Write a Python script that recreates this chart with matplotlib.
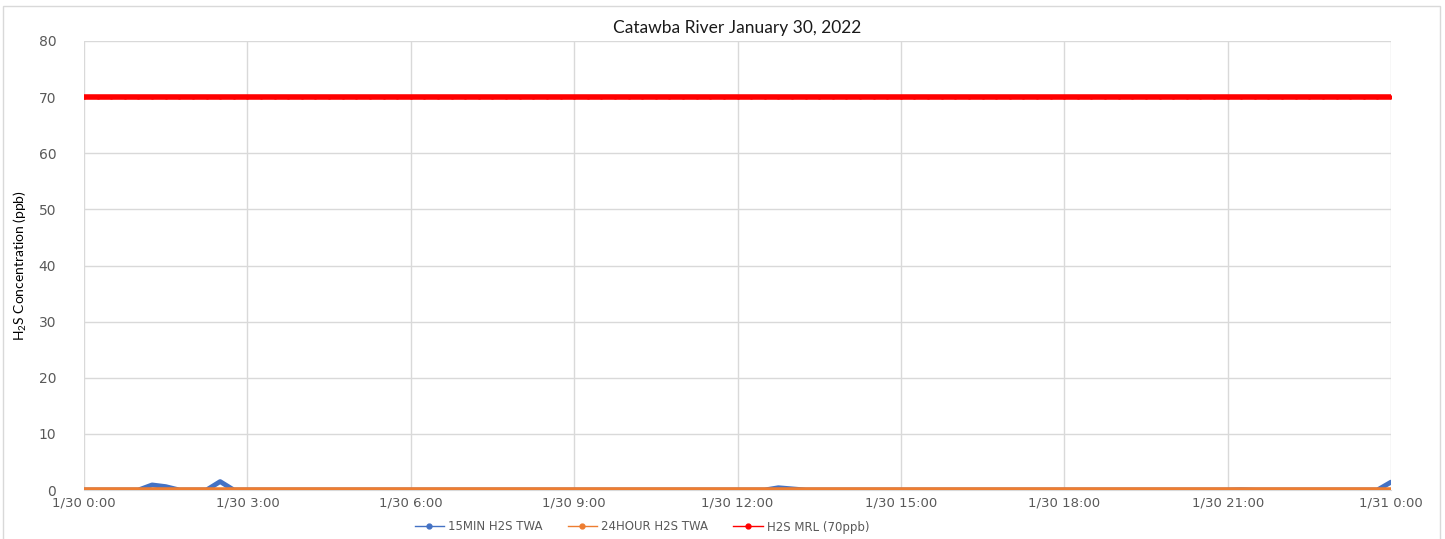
import matplotlib

matplotlib.use("Agg")

import matplotlib.pyplot as plt
import matplotlib.dates as mdates
import pandas as pd
from matplotlib.lines import Line2D
from matplotlib.patches import Rectangle

plt.rcParams["mathtext.default"] = "regular"
plt.rcParams["font.family"] = ["DejaVu Sans"]

TITLE = "Catawba River January 30, 2022"
YLABEL = "H$_2$S Concentration (ppb)"

# 15-minute readings, 1/30 0:00 through 1/31 0:00
times = pd.date_range("2022-01-30 00:00", "2022-01-31 00:00", freq="15min")

min15_twa = [
    0.0, 0.0, 0.0, 0.0, 0.0, 0.9, 0.6, 0.0, 0.0, 0.0, 1.5, 0.0,
    0.0, 0.0, 0.0, 0.0, 0.0, 0.0, 0.0, 0.0, 0.0, 0.0, 0.0, 0.0,
    0.0, 0.0, 0.0, 0.0, 0.0, 0.0, 0.0, 0.0, 0.0, 0.0, 0.0, 0.0,
    0.0, 0.0, 0.0, 0.0, 0.0, 0.0, 0.0, 0.0, 0.0, 0.0, 0.0, 0.0,
    0.0, 0.0, 0.0, 0.4, 0.2, 0.0, 0.0, 0.0, 0.0, 0.0, 0.0, 0.0,
    0.0, 0.0, 0.0, 0.0, 0.0, 0.0, 0.0, 0.0, 0.0, 0.0, 0.0, 0.0,
    0.0, 0.0, 0.0, 0.0, 0.0, 0.0, 0.0, 0.0, 0.0, 0.0, 0.0, 0.0,
    0.0, 0.05, 0.0, 0.0, 0.0, 0.0, 0.0, 0.0, 0.0, 0.0, 0.0, 0.0,
    1.4,
]
hour24_twa = [0.0] * len(times)
mrl_ppb = [70.0] * len(times)

BLUE = "#4472c4"
ORANGE = "#ed7d31"
RED = "#ff0000"
GRID = "#d9d9d9"

fig = plt.figure(figsize=(14.45, 5.39), dpi=100)
ax = fig.add_axes([84 / 1445, 1 - 490 / 539, (1391 - 84) / 1445, (490 - 41) / 539])

ax.plot(times, mrl_ppb, color=RED, lw=4, marker="o", ms=3, mew=0,
        solid_capstyle="round", zorder=3)
ax.plot(times, min15_twa, color=BLUE, lw=3.5, solid_joinstyle="round",
        solid_capstyle="round", zorder=4)
ax.plot(times, hour24_twa, color=ORANGE, lw=4, solid_capstyle="round", zorder=5)

ax.set_xlim(times[0], times[-1])
ax.set_ylim(0, 80)
ax.set_yticks(range(0, 81, 10))
ax.xaxis.set_major_locator(mdates.HourLocator(byhour=range(0, 24, 3)))
ax.xaxis.set_minor_locator(mdates.HourLocator())
ax.xaxis.set_major_formatter(
    matplotlib.ticker.FuncFormatter(
        lambda v, pos: (lambda d: f"{d.month}/{d.day} {d.hour}:{d.minute:02d}")(
            mdates.num2date(v)
        )
    )
)

ax.grid(True, which="major", color=GRID, lw=1)
ax.set_axisbelow(True)
for side in ("top", "right", "left"):
    ax.spines[side].set_visible(False)
ax.spines["bottom"].set_color(GRID)
ax.tick_params(axis="both", which="both", length=0, labelsize=10,
               labelcolor="#595959")
ax.tick_params(axis="x", which="major", pad=5, labelsize=9.5)
ax.tick_params(axis="y", pad=20)

ax.set_title(TITLE, fontsize=12.5, family=["Lato", "DejaVu Sans"], pad=6,
             color="#1a1a1a")
ax.set_ylabel(YLABEL, fontsize=10, family=["Liberation Sans Narrow", "Lato"],
              labelpad=7)

handles = [
    Line2D([], [], color=BLUE, lw=1, marker="o", ms=3.5),
    Line2D([], [], color=ORANGE, lw=1, marker="o", ms=3.5),
    Line2D([], [], color=RED, lw=1, marker="o", ms=3.5),
]
fig.legend(handles, ["15MIN H2S TWA", "24HOUR H2S TWA", "H2S MRL (70ppb)"],
           loc="center", bbox_to_anchor=(642 / 1445, 1 - 527 / 539), ncol=3,
           frameon=False, fontsize=8.5, handlelength=2.5, handletextpad=0.35,
           columnspacing=2.1, labelcolor="#595959")

fig.add_artist(Rectangle((3 / 1445, -0.01), 1437 / 1445, 1 - 6 / 539 + 0.01,
                         transform=fig.transFigure, fill=False,
                         edgecolor=GRID, lw=1))

fig.savefig("out.png", dpi=100)
